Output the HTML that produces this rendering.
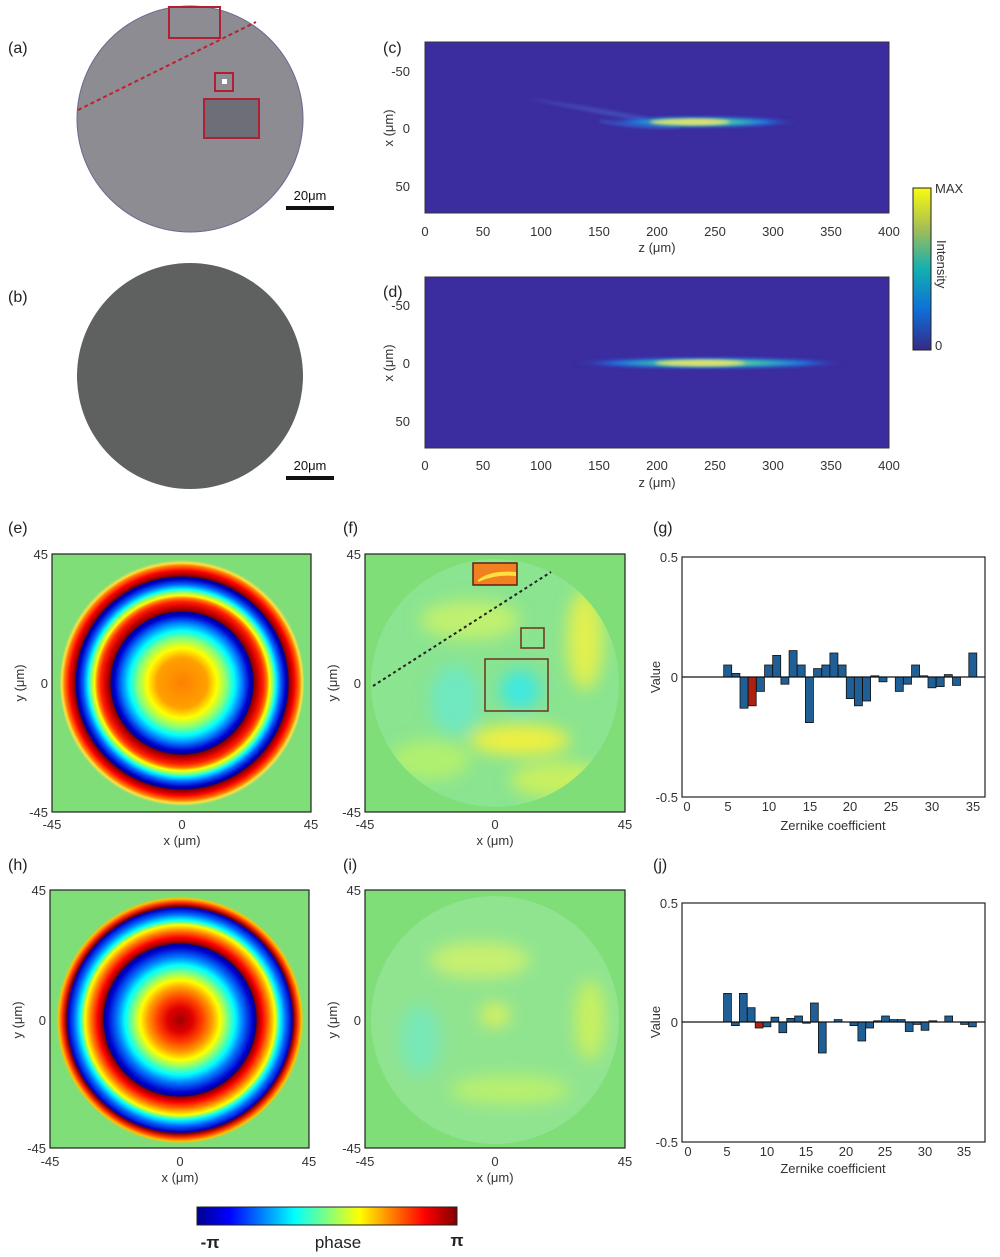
<!DOCTYPE html>
<html><head><meta charset="utf-8"><style>
html,body{margin:0;padding:0;background:#fff}
svg{display:block;font-family:"Liberation Sans",sans-serif}
</style></head><body>
<svg width="1000" height="1257" viewBox="0 0 1000 1257" xmlns="http://www.w3.org/2000/svg">
<defs>
<filter id="bl" x="-20%" y="-20%" width="140%" height="140%"><feGaussianBlur stdDeviation="8"/></filter>
<filter id="bl3" x="-50%" y="-50%" width="200%" height="200%"><feGaussianBlur stdDeviation="1.5"/></filter>
<radialGradient id="ge" cx="182" cy="683" r="125" gradientUnits="userSpaceOnUse">
<stop offset="0" stop-color="#ff8000"/><stop offset="0.2" stop-color="#ffa000"/><stop offset="0.28" stop-color="#ffff00"/>
<stop offset="0.36" stop-color="#80ff80"/><stop offset="0.42" stop-color="#00ffff"/><stop offset="0.48" stop-color="#0080ff"/>
<stop offset="0.54" stop-color="#0000d0"/><stop offset="0.568" stop-color="#00008f"/><stop offset="0.576" stop-color="#800000"/>
<stop offset="0.61" stop-color="#d00000"/><stop offset="0.65" stop-color="#ff2000"/><stop offset="0.68" stop-color="#ff8000"/>
<stop offset="0.70" stop-color="#ffff00"/><stop offset="0.73" stop-color="#80ff80"/><stop offset="0.75" stop-color="#00ffff"/>
<stop offset="0.79" stop-color="#0060ff"/><stop offset="0.83" stop-color="#0000c0"/><stop offset="0.848" stop-color="#000090"/>
<stop offset="0.856" stop-color="#800000"/><stop offset="0.9" stop-color="#ff0000"/><stop offset="0.94" stop-color="#ff8000"/>
<stop offset="0.96" stop-color="#ffe040"/><stop offset="0.985" stop-color="#80de78"/><stop offset="1" stop-color="#80de78"/>
</radialGradient>
<radialGradient id="gh" cx="180" cy="1020" r="125" gradientUnits="userSpaceOnUse">
<stop offset="0" stop-color="#a00000"/><stop offset="0.1" stop-color="#e00000"/><stop offset="0.18" stop-color="#ff4000"/>
<stop offset="0.26" stop-color="#ffa000"/><stop offset="0.32" stop-color="#ffff00"/><stop offset="0.38" stop-color="#80ff80"/>
<stop offset="0.44" stop-color="#00ffff"/><stop offset="0.5" stop-color="#0080ff"/><stop offset="0.58" stop-color="#0000d0"/>
<stop offset="0.608" stop-color="#00008f"/><stop offset="0.616" stop-color="#800000"/><stop offset="0.66" stop-color="#ff0000"/>
<stop offset="0.72" stop-color="#ff9000"/><stop offset="0.76" stop-color="#ffff00"/><stop offset="0.8" stop-color="#00ffff"/>
<stop offset="0.85" stop-color="#0060ff"/><stop offset="0.895" stop-color="#0000c0"/><stop offset="0.91" stop-color="#800000"/>
<stop offset="0.94" stop-color="#ff3000"/><stop offset="0.97" stop-color="#ffc000"/><stop offset="0.99" stop-color="#80de78"/><stop offset="1" stop-color="#80de78"/>
</radialGradient>
<linearGradient id="jet" x1="0" x2="1" y1="0" y2="0">
<stop offset="0" stop-color="#00008f"/><stop offset="0.125" stop-color="#0000ff"/><stop offset="0.375" stop-color="#00ffff"/>
<stop offset="0.5" stop-color="#80ff80"/><stop offset="0.625" stop-color="#ffff00"/><stop offset="0.875" stop-color="#ff0000"/><stop offset="1" stop-color="#800000"/>
</linearGradient>
<linearGradient id="par" x1="0" x2="0" y1="1" y2="0">
<stop offset="0" stop-color="#352a87"/><stop offset="0.25" stop-color="#0f6fd8"/><stop offset="0.5" stop-color="#13b0b0"/>
<stop offset="0.75" stop-color="#a5be55"/><stop offset="1" stop-color="#f9fb0e"/>
</linearGradient>
<radialGradient id="beam" cx="0.5" cy="0.5" r="0.5">
<stop offset="0" stop-color="#e8e060"/><stop offset="0.35" stop-color="#40c8a0"/><stop offset="0.7" stop-color="#1e70e0"/><stop offset="1" stop-color="#3b2ca0" stop-opacity="0"/>
</radialGradient>
<clipPath id="cf"><circle cx="495" cy="683" r="124"/></clipPath>
<clipPath id="ci"><circle cx="495" cy="1020" r="124"/></clipPath>
</defs>

<g font-size="16" fill="#222">
<text x="8" y="53">(a)</text><text x="8" y="302">(b)</text>
<text x="383" y="53">(c)</text><text x="383" y="297">(d)</text>
<text x="8" y="533">(e)</text><text x="343" y="533">(f)</text><text x="653" y="533">(g)</text>
<text x="8" y="870">(h)</text><text x="343" y="870">(i)</text><text x="653" y="870">(j)</text>
</g>

<circle cx="190" cy="119" r="113" fill="#8c8c92"/>
<circle cx="190" cy="119" r="113" fill="none" stroke="#6a6a90" stroke-width="1"/>
<line x1="78" y1="110" x2="256" y2="22" stroke="#c02030" stroke-width="2" stroke-dasharray="4,3"/>
<rect x="169" y="7" width="51" height="31" fill="none" stroke="#b02030" stroke-width="2"/>
<rect x="215" y="73" width="18" height="18" fill="none" stroke="#b02030" stroke-width="2"/>
<rect x="222" y="79" width="5" height="5" fill="#fff"/>
<rect x="204" y="99" width="55" height="39" fill="#6e6e78" stroke="#b02030" stroke-width="2"/>
<rect x="286" y="206" width="48" height="4" fill="#111"/>
<text x="310" y="200" font-size="13" text-anchor="middle" fill="#111">20μm</text>
<circle cx="190" cy="376" r="113" fill="#5f6161"/>
<rect x="286" y="476" width="48" height="4" fill="#111"/>
<text x="310" y="470" font-size="13" text-anchor="middle" fill="#111">20μm</text>

<rect x="425" y="42" width="464" height="171" fill="#3b2ca0" stroke="#333" stroke-width="1"/>
<g filter="url(#bl3)">
<path d="M525 98 Q600 108 650 118 L640 121 Q590 112 525 98Z" fill="#4a60c8" opacity="0.6"/>
<path d="M600 120 Q640 126 680 124 L680 128 Q640 130 600 122Z" fill="#3a80d8" opacity="0.6"/>
</g>
<ellipse cx="700" cy="122" rx="100" ry="6" fill="url(#beam)" filter="url(#bl3)"/>
<ellipse cx="690" cy="122" rx="40" ry="3" fill="#e0e070" filter="url(#bl3)"/>
<g font-size="13" fill="#333" text-anchor="middle">
<text x="425" y="236">0</text><text x="483" y="236">50</text><text x="541" y="236">100</text><text x="599" y="236">150</text><text x="657" y="236">200</text><text x="715" y="236">250</text><text x="773" y="236">300</text><text x="831" y="236">350</text><text x="889" y="236">400</text>
<text x="657" y="252">z (μm)</text>
<text x="410" y="76" text-anchor="end">-50</text><text x="410" y="133" text-anchor="end">0</text><text x="410" y="191" text-anchor="end">50</text>
<text transform="translate(393,128) rotate(-90)">x (μm)</text>
</g>
<rect x="425" y="277" width="464" height="171" fill="#3b2ca0" stroke="#333" stroke-width="1"/>
<ellipse cx="710" cy="363" rx="140" ry="6" fill="url(#beam)" filter="url(#bl3)"/>
<ellipse cx="700" cy="363" rx="45" ry="3" fill="#e0e070" filter="url(#bl3)"/>
<g font-size="13" fill="#333" text-anchor="middle">
<text x="425" y="470">0</text><text x="483" y="470">50</text><text x="541" y="470">100</text><text x="599" y="470">150</text><text x="657" y="470">200</text><text x="715" y="470">250</text><text x="773" y="470">300</text><text x="831" y="470">350</text><text x="889" y="470">400</text>
<text x="657" y="487">z (μm)</text>
<text x="410" y="310" text-anchor="end">-50</text><text x="410" y="368" text-anchor="end">0</text><text x="410" y="426" text-anchor="end">50</text>
<text transform="translate(393,363) rotate(-90)">x (μm)</text>
</g>
<rect x="913" y="188" width="18" height="162" fill="url(#par)" stroke="#222" stroke-width="1"/>
<g font-size="13" fill="#333"><text x="935" y="193">MAX</text><text x="935" y="350">0</text>
<text transform="translate(937,240) rotate(90)">Intensity</text></g>

<rect x="52" y="554" width="259" height="258" fill="#80de78" stroke="#222" stroke-width="1.2"/>
<ellipse cx="182" cy="683" rx="122" ry="126" fill="url(#ge)"/>
<rect x="50" y="890" width="259" height="258" fill="#80de78" stroke="#222" stroke-width="1.2"/>
<circle cx="180" cy="1020" r="125" fill="url(#gh)"/>

<rect x="365" y="554" width="260" height="258" fill="#80de78" stroke="#222" stroke-width="1.2"/>
<g clip-path="url(#cf)">
<circle cx="495" cy="683" r="124" fill="#8ae490"/>
<g filter="url(#bl)">
<ellipse cx="470" cy="620" rx="50" ry="20" fill="#c0f070"/>
<ellipse cx="585" cy="640" rx="18" ry="50" fill="#e0f050"/>
<ellipse cx="520" cy="740" rx="50" ry="15" fill="#f0f040"/>
<ellipse cx="455" cy="700" rx="25" ry="35" fill="#70e8c0"/>
<ellipse cx="520" cy="690" rx="20" ry="20" fill="#40e8e0"/>
<ellipse cx="430" cy="760" rx="40" ry="20" fill="#b0f070"/>
<ellipse cx="560" cy="780" rx="50" ry="18" fill="#c8f060"/>
</g>
</g>
<line x1="373" y1="686" x2="551" y2="572" stroke="#222" stroke-width="2" stroke-dasharray="3,3"/>
<rect x="473" y="563" width="44" height="22" fill="#f08020" stroke="#602010" stroke-width="1.5"/>
<path d="M478 580 Q490 570 516 572 L516 576 Q495 574 478 582Z" fill="#ffe040"/>
<rect x="521" y="628" width="23" height="20" fill="none" stroke="#703020" stroke-width="1.5"/>
<rect x="485" y="659" width="63" height="52" fill="none" stroke="#703020" stroke-width="1.5"/>
<rect x="365" y="890" width="260" height="258" fill="#80de78" stroke="#222" stroke-width="1.2"/>
<g clip-path="url(#ci)">
<circle cx="495" cy="1020" r="124" fill="#90e490"/>
<g filter="url(#bl)">
<ellipse cx="480" cy="960" rx="50" ry="18" fill="#c8f070"/>
<ellipse cx="495" cy="1015" rx="15" ry="12" fill="#d8f060"/>
<ellipse cx="590" cy="1020" rx="15" ry="40" fill="#c8f060"/>
<ellipse cx="420" cy="1040" rx="20" ry="35" fill="#78e8b8"/>
<ellipse cx="510" cy="1090" rx="60" ry="15" fill="#b8f070"/>
</g>
</g>

<g font-size="13" fill="#333" text-anchor="middle">
<text x="48" y="559" text-anchor="end">45</text><text x="48" y="688" text-anchor="end">0</text><text x="48" y="817" text-anchor="end">-45</text>
<text x="52" y="829">-45</text><text x="182" y="829">0</text><text x="311" y="829">45</text><text x="182" y="845">x (μm)</text>
<text transform="translate(24,683) rotate(-90)">y (μm)</text>
<text x="361" y="559" text-anchor="end">45</text><text x="361" y="688" text-anchor="end">0</text><text x="361" y="817" text-anchor="end">-45</text>
<text x="365" y="829">-45</text><text x="495" y="829">0</text><text x="625" y="829">45</text><text x="495" y="845">x (μm)</text>
<text transform="translate(337,683) rotate(-90)">y (μm)</text>
<text x="46" y="895" text-anchor="end">45</text><text x="46" y="1025" text-anchor="end">0</text><text x="46" y="1153" text-anchor="end">-45</text>
<text x="50" y="1166">-45</text><text x="180" y="1166">0</text><text x="309" y="1166">45</text><text x="180" y="1182">x (μm)</text>
<text transform="translate(22,1020) rotate(-90)">y (μm)</text>
<text x="361" y="895" text-anchor="end">45</text><text x="361" y="1025" text-anchor="end">0</text><text x="361" y="1153" text-anchor="end">-45</text>
<text x="365" y="1166">-45</text><text x="495" y="1166">0</text><text x="625" y="1166">45</text><text x="495" y="1182">x (μm)</text>
<text transform="translate(337,1020) rotate(-90)">y (μm)</text>
</g>

<rect x="682" y="557" width="303" height="240" fill="#fff" stroke="#222" stroke-width="1.2"/>
<g font-size="13" fill="#333" text-anchor="middle">
<text x="678" y="562" text-anchor="end">0.5</text><text x="678" y="682" text-anchor="end">0</text><text x="678" y="802" text-anchor="end">-0.5</text>
<text x="687" y="811">0</text><text x="728" y="811">5</text><text x="769" y="811">10</text><text x="810" y="811">15</text><text x="850" y="811">20</text><text x="891" y="811">25</text><text x="932" y="811">30</text><text x="973" y="811">35</text>
<text x="833" y="830">Zernike coefficient</text>
<text transform="translate(660,677) rotate(-90)">Value</text>
</g>
<rect x="682" y="903" width="303" height="239" fill="#fff" stroke="#222" stroke-width="1.2"/>
<g font-size="13" fill="#333" text-anchor="middle">
<text x="678" y="908" text-anchor="end">0.5</text><text x="678" y="1027" text-anchor="end">0</text><text x="678" y="1147" text-anchor="end">-0.5</text>
<text x="688" y="1156">0</text><text x="727" y="1156">5</text><text x="767" y="1156">10</text><text x="806" y="1156">15</text><text x="846" y="1156">20</text><text x="885" y="1156">25</text><text x="925" y="1156">30</text><text x="964" y="1156">35</text>
<text x="833" y="1173">Zernike coefficient</text>
<text transform="translate(660,1022) rotate(-90)">Value</text>
</g>
<g fill="#1f5f96" stroke="#111" stroke-width="0.8">
<rect x="723.7" y="665" width="8" height="12"/>
<rect x="731.9" y="673.4" width="8" height="3.6"/>
<rect x="740.0" y="677" width="8" height="31.2"/>
<rect x="748.2" y="677" width="8" height="28.8" fill="#b02010"/>
<rect x="756.4" y="677" width="8" height="14.4"/>
<rect x="764.6" y="665" width="8" height="12"/>
<rect x="772.7" y="655.4" width="8" height="21.6"/>
<rect x="780.9" y="677" width="8" height="7.2"/>
<rect x="789.1" y="650.6" width="8" height="26.4"/>
<rect x="797.2" y="665" width="8" height="12"/>
<rect x="805.4" y="677" width="8" height="45.6"/>
<rect x="813.6" y="668.6" width="8" height="8.4"/>
<rect x="821.8" y="665" width="8" height="12"/>
<rect x="829.9" y="653" width="8" height="24"/>
<rect x="838.1" y="665" width="8" height="12"/>
<rect x="846.3" y="677" width="8" height="21.6"/>
<rect x="854.4" y="677" width="8" height="28.8"/>
<rect x="862.6" y="677" width="8" height="24"/>
<rect x="870.8" y="675.8" width="8" height="1.2"/>
<rect x="879.0" y="677" width="8" height="4.8"/>
<rect x="895.3" y="677" width="8" height="14.4"/>
<rect x="903.5" y="677" width="8" height="7.2"/>
<rect x="911.6" y="665" width="8" height="12"/>
<rect x="919.8" y="675.8" width="8" height="1.2"/>
<rect x="928.0" y="677" width="8" height="10.8"/>
<rect x="936.2" y="677" width="8" height="9.6"/>
<rect x="944.3" y="674.6" width="8" height="2.4"/>
<rect x="952.5" y="677" width="8" height="8.4"/>
<rect x="968.8" y="653" width="8" height="24"/>
<rect x="723.6" y="993.4" width="7.8" height="28.6"/>
<rect x="731.5" y="1022" width="7.8" height="3.6"/>
<rect x="739.4" y="993.4" width="7.8" height="28.6"/>
<rect x="747.3" y="1007.7" width="7.8" height="14.3"/>
<rect x="755.2" y="1022" width="7.8" height="6" fill="#b02010"/>
<rect x="763.1" y="1022" width="7.8" height="4.8"/>
<rect x="771.0" y="1017.2" width="7.8" height="4.8"/>
<rect x="778.9" y="1022" width="7.8" height="10.7"/>
<rect x="786.8" y="1018.4" width="7.8" height="3.6"/>
<rect x="794.7" y="1016" width="7.8" height="6"/>
<rect x="802.6" y="1022" width="7.8" height="1.2"/>
<rect x="810.5" y="1003" width="7.8" height="19"/>
<rect x="818.4" y="1022" width="7.8" height="31"/>
<rect x="834.2" y="1019.6" width="7.8" height="2.4"/>
<rect x="850.0" y="1022" width="7.8" height="3.6"/>
<rect x="857.9" y="1022" width="7.8" height="19"/>
<rect x="865.8" y="1022" width="7.8" height="6"/>
<rect x="873.7" y="1020.8" width="7.8" height="1.2"/>
<rect x="881.6" y="1016" width="7.8" height="6"/>
<rect x="889.5" y="1019.6" width="7.8" height="2.4"/>
<rect x="897.4" y="1019.6" width="7.8" height="2.4"/>
<rect x="905.3" y="1022" width="7.8" height="9.5"/>
<rect x="913.2" y="1022" width="7.8" height="2.4"/>
<rect x="921.1" y="1022" width="7.8" height="8.3"/>
<rect x="929.0" y="1020.8" width="7.8" height="1.2"/>
<rect x="944.8" y="1016" width="7.8" height="6"/>
<rect x="960.6" y="1022" width="7.8" height="2.4"/>
<rect x="968.5" y="1022" width="7.8" height="4.8"/>
</g>
<line x1="682" y1="677" x2="985" y2="677" stroke="#111" stroke-width="1.2"/>
<line x1="682" y1="1022" x2="985" y2="1022" stroke="#111" stroke-width="1.2"/>

<rect x="197" y="1207" width="260" height="18" fill="url(#jet)" stroke="#222" stroke-width="1"/>
<g font-size="17" fill="#222" text-anchor="middle">
<text x="210" y="1248" font-weight="bold">-π</text><text x="338" y="1248">phase</text><text x="457" y="1246" font-weight="bold">π</text>
</g>
</svg>
</body></html>
